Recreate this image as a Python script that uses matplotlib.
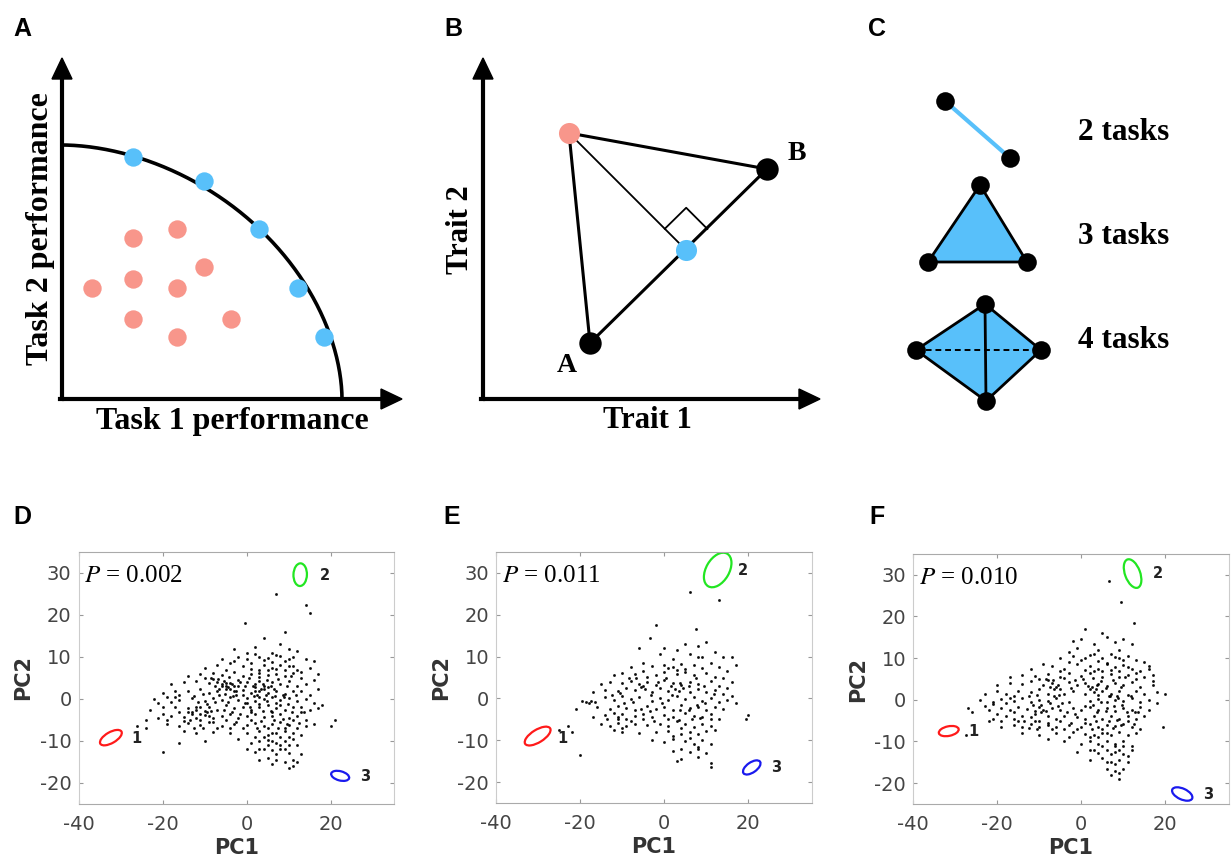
import numpy as np
import matplotlib
matplotlib.use("Agg")
import matplotlib.pyplot as plt
from matplotlib.patches import Polygon, Ellipse

plt.rcParams['mathtext.fontset'] = 'stix'
plt.rcParams['axes.unicode_minus'] = False

SERIF = 'Liberation Serif'
SANS = 'Liberation Sans'
BLUE = '#58C0FA'
PINK = '#F8968B'

# ---- panel A (pixel coords of the schematic) ----
a_front = [(133, 157), (204, 181), (259, 229), (298, 288), (324, 337)]
a_inner = [(133, 238), (177, 229), (204, 267), (133, 279), (92, 288),
           (177, 288), (133, 319), (231, 319), (177, 337)]

# ---- panel B ----
b_pink = (569, 133)
b_blue = (686, 250)
b_A = (590, 343)
b_B = (767, 169)

# ---- panel C ----
c_two = [(945, 101), (1010, 158)]
c_three = [(980, 185), (1027, 262), (928, 262)]
c_four = [(985, 304), (1041, 350), (986, 401), (916, 350)]
c_labels = ['2 tasks', '3 tasks', '4 tasks']
c_label_y = [132, 237, 341]

# ---- panels D-F: PCA scores ----
pts_d = [
    (7, 25), (14, 22.5), (15, 20.5), (-0.5, 18), (9, 16), (4, 14.5), (-20, -12.5), (21, -5), (20, -6.5),
    (-26, -6.5), (-24, -7),
    (-3, 12), (2, 12.5), (6, 11), (8, 13), (10, 12), (12, 11.5),
    (-6, 9.5), (-2, 10), (0, 11), (3, 10), (5, 9.8), (7, 10.5), (9, 9), (11, 10), (14, 9.5), (16, 9),
    (-10, 7.5), (-7, 8), (-4, 8.5), (-1, 7.8), (1, 8.5), (4, 8), (6, 7.5), (8, 8.2), (10, 7.8), (12, 7),
    (15, 7.5), (17, 6),
    (-14, 5.5), (-11, 6), (-8, 6.2), (-6, 5.8), (-3, 6.5), (-1, 5.5), (1, 6), (3, 6.3), (5, 5.7), (7, 6),
    (9, 5.5), (11, 6.2), (13, 5), (16, 4.5),
    (-18, 3.5), (-15, 4), (-12, 4.2), (-9, 3.8), (-7, 4), (-6, 3.5), (-5, 3.2), (-4, 3.8), (-3, 3),
    (-2, 4.5), (0, 4), (2, 3.5), (3, 4.2), (4, 3), (6, 4), (8, 3.6), (10, 4.2), (12, 3), (14, 3.5), (17, 2.5),
    (-20, 1.5), (-17, 2), (-14, 1.8), (-11, 2.3), (-9, 1.5), (-7, 2), (-5, 2.5), (-3, 1.8), (-1, 2.2),
    (1, 1.5), (2, 2), (3, 1.8), (4, 2.3), (5, 1.5), (7, 2), (9, 1.2), (11, 1.8), (13, 2), (15, 1),
    (-22, 0), (-19, 0.5), (-16, -0.2), (-13, 0.3), (-10, -0.5), (-8, 0.2), (-6, -0.3), (-4, 0.5),
    (-2, -0.2), (0, 0.3), (2, -0.5), (4, 0), (6, 0.5), (8, -0.3), (10, 0.2), (12, -0.5), (14, 0),
    (16, -1), (18, -1.5),
    (-23, -2.5), (-20, -2), (-17, -1.8), (-14, -2.2), (-12, -2.5), (-11, -1.8), (-9, -2), (-7, -2.5),
    (-5, -1.5), (-3, -2.2), (-1, -1.8), (1, -2.5), (3, -2), (5, -1.5), (7, -2.2), (9, -2.5), (11, -2),
    (13, -1.8), (15, -2.5), (17, -2.2),
    (-24, -5), (-21, -4.5), (-18, -4), (-15, -4.2), (-13, -3.5), (-12, -4.5), (-10, -3.8), (-8, -4.5),
    (-6, -4), (-4, -3.5), (-2, -4.5), (0, -4), (2, -3.5), (4, -4.3), (6, -4), (8, -3.5), (10, -4.5),
    (12, -4), (14, -5),
    (-19, -6), (-16, -6.5), (-14, -5.8), (-11, -6.2), (-9, -5.5), (-6, -6.5), (-3, -6), (0, -6.2),
    (2, -5.8), (4, -6.5), (6, -6), (8, -5.5), (10, -6.3), (12, -7), (14, -6.5), (16, -6),
    (-15, -7.5), (-12, -8), (-8, -7.8), (-4, -8.2), (0, -8), (3, -7.5), (5, -8.5), (7, -8), (9, -7.6),
    (11, -8.2), (13, -8.5),
    (-16, -10.5), (-10, -10), (-2, -9.5), (1, -10.5), (3, -10), (5, -9.8), (7, -10.5), (9, -10),
    (11, -9.5), (12, -11),
    (0, -12), (2, -12.5), (4, -11.8), (6, -12.2), (8, -12), (10, -12.8), (13, -13),
    (3, -14.5), (5, -14), (7, -14.5), (9, -15), (11, -14.5), (10, -16.5), (11, -16),
    (-6, 3), (-5.5, 4.2), (-4.5, 2.8), (-5, 3.8), (-4, 2.5), (-6.5, 2.5), (-3.5, 3.5),
    (2.5, 1), (3.5, 2.5), (4.5, 1), (2, 2.8), (5, 2.8), (3, 0.5),
    (-13, -3), (-11, -3.5), (-12, -2), (-10, -2.8), (-9, -4), (-14, -3),
    (0, -1), (1, -3), (6, -3), (7, -1), (-1, 1), (-2, 3), (9, -7), (10, -9), (8, -9), (6, -10),
    (-8.5, 5), (-7.5, 3), (-6.8, 4.8), (-5.2, 1.2), (-4.2, 5.2), (-3.2, 0.8), (-2.5, 2), (-1.5, 4),
    (-0.5, 3.2), (0.5, 5), (1.5, 3), (2.8, 5.2), (3.8, 3.6), (4.8, 4.5), (5.8, 3), (6.5, 2.4),
    (7.5, 4.8), (8.5, 1), (9.5, 3), (10.5, 5.5),
    (-12.5, 0.8), (-11.5, -0.8), (-10.5, 1.2), (-9.5, -1.2), (-8.5, -2.8), (-7.5, -0.8), (-6.5, 1),
    (-5.5, -2.5), (-4.5, -0.8), (-3.5, -3), (-2.5, 1), (-1.5, -3.5), (-0.5, -1), (0.8, -1.8),
    (1.8, 0.8), (2.8, -1.2), (3.8, -2.8), (4.8, -0.5), (5.8, -2.8), (6.8, 0.8), (7.8, -1.5),
    (8.8, 0.5), (9.8, -1.2), (10.8, -3), (11.8, 1), (12.8, -3),
    (-16, -3), (-15, -5.2), (-13.5, -5), (-12.5, -6.8), (-11, -5), (-10.5, -7), (-9.5, -3), (-8, -5.5),
    (-7, -7), (-5, -5), (-4, -7), (-2.5, -5.5), (-1, -7), (1, -5), (2.5, -7), (3.5, -5.2), (5, -7),
    (6.5, -5), (7.5, -6.8), (8.5, -4.8), (9.5, -6), (11, -5), (12.5, -5.8), (13.5, -3),
    (-18, -0.8), (-20, -3.5), (-17, 0.5), (-21, -1), (-19, -5), (-16, 1),
    (0, 9.5), (2, 10.8), (4, 9.2), (6, 8.8), (8, 10.2), (10, 9.5), (-3, 9), (-5, 7), (-8, 4.8),
    (-10, 5), (1, 7.2), (3, 6.8), (5, 7), (7, 7.2), (9, 7), (11, 7.8), (13, 6.5),
    (2, -9), (4, -9), (6, -8), (8, -11), (10, -11), (3, -12), (7, -13), (9, -12), (5, -11),
    (6, -15.5), (12, -15),
]

pts_e = [
    (6, 25.5), (13, 23.5), (-2, 17.5), (-3.5, 14.5), (7.5, 16.5), (-20, -13.5), (-23, -6.5),
    (-25, -7.5), (-22, -8), (20, -4), (19.5, -5), (16, 10), (17, 8), (-6, 12),
    (0, 12), (3, 11.5), (5, 13), (8, 12.5), (10, 13.5), (12, 11), (14, 10), (-1, 10.5), (2, 9.5),
    (6, 10.5), (9, 10),
    (-8, 7.5), (-5, 8.5), (-3, 7.8), (0, 8), (2, 7.5), (4, 8.3), (7, 8), (9, 7.2), (11, 8.5),
    (13, 7.5), (15, 6.5),
    (-12, 5.5), (-10, 6), (-7, 5.8), (-5, 6.5), (-2, 5.5), (0, 6.2), (3, 5.8), (5, 6.3), (7, 5.5),
    (10, 6), (12, 5.2), (14, 4.8), (16, 4),
    (-15, 3.5), (-13, 4), (-10, 3.8), (-8, 4.2), (-6, 3.5), (-5, 3), (-4, 4), (-2, 3.2), (0, 4.5),
    (2, 3.8), (4, 3.2), (6, 4), (8, 3.5), (11, 4.2), (13, 3), (15, 2.5),
    (-17, 1.5), (-14, 2), (-11, 1.8), (-9, 2.5), (-7, 2), (-5.5, 2.8), (-4.5, 2.2), (-3, 1.5),
    (-1, 2.5), (1, 1.8), (2.5, 2.2), (3.5, 1.8), (4.5, 2.5), (6, 1.5), (8, 2.2), (10, 1.5), (12, 2),
    (14, 1), (16, 0.5),
    (-19.5, -0.5), (-18.5, -0.8), (-17.5, -0.5), (-16.5, -0.8), (-18, -1.2), (-14, 0.3), (-12, -0.3),
    (-10, 0.5), (-8, -0.2), (-6, 0.3), (-3, -0.5), (-1, 0.2), (1, -0.3), (3, 0.5), (5, -0.2),
    (7, 0.3), (9, -0.5), (11, 0), (13, -0.8), (15, -0.3), (17, -1),
    (-21, -2.5), (-16, -2), (-13, -2.5), (-11, -1.8), (-9, -2.2), (-7, -2.8), (-4, -1.8), (-2, -2.5),
    (0, -2), (2, -2.8), (4, -1.5), (6, -2.3), (8, -2), (10, -2.8), (12, -2), (14, -2.5),
    (-17, -4.5), (-14, -4), (-12, -3.5), (-11, -4.5), (-10, -3.8), (-9, -5), (-7, -4.2), (-5, -3.8),
    (-3, -4.5), (0, -4), (2, -4.5), (5, -3.5), (7, -4.2), (9, -4.5), (11, -3.8), (13, -5),
    (-15, -6), (-13, -6.5), (-11, -5.8), (-9, -6.5), (-7, -6), (-4, -6.3), (-1, -6), (1, -6.5),
    (3, -5.5), (5, -6.2), (7, -6.8), (9, -6), (11, -6.5), (12, -7.5),
    (-12, -7.5), (-10, -8), (-6, -8.2), (-2, -8), (1, -7.8), (4, -8.5), (6, -8), (8, -8.5), (10, -7.8),
    (-3, -10), (0, -10.5), (2, -9.8), (5, -10.2), (7, -10.8), (9, -10), (11, -11),
    (2, -12.5), (4, -12), (6, -12.8), (8, -12.2), (10, -13),
    (4, -14.5), (3, -15), (8, -14), (11, -15.5), (11, -16.5),
    (-8.5, 5), (-6.8, 4.8), (-4.2, 5.2), (-3.2, 0.8), (-1.5, 4), (0.5, 5), (1.5, 3), (3.8, 3.6),
    (5.8, 3), (7.5, 4.8), (9.5, 3),
    (-12.5, 0.8), (-10.5, 1.2), (-9.5, -1.2), (-7.5, -0.8), (-5.5, -2.5), (-3.5, -3), (-0.5, -1),
    (1.8, 0.8), (3.8, -2.8), (5.8, -2.8), (7.8, -1.5), (9.8, -1.2), (11.8, 1),
    (-13.5, -5), (-11, -5), (-10, -7), (-8, -5.5), (-5, -5), (-2.5, -5.5), (1, -5), (3.5, -5.2),
    (6.5, -5), (8.5, -4.8), (11, -5),
    (1, 7.2), (3, 6.8), (5, 7), (8, 10), (2, -9), (6, -9.5), (8, -11.5), (4, -7),
]

pts_f = [
    (6.5, 28.5), (9.5, 23.5), (12.5, 18.5), (-2, 14), (-26, -3), (-27, -2), (-27.5, -8.5),
    (19.5, -6.5), (20, 1.5), (17, 6), (16, 7.5), (1, 17), (5, 16),
    (0, 14.5), (3, 13.5), (6, 15), (8, 13.8), (10, 14.5), (12, 13.5), (-1, 12.5), (4, 12), (9, 12),
    (-5, 10), (-2, 10.5), (1, 10), (3, 11), (5, 10), (7, 11), (9, 10), (11, 10.5), (13, 9.5),
    (15, 9), (-3, 11.5),
    (-12, 7.5), (-9, 8.5), (-7, 8), (-4, 7.5), (-1, 8.5), (2, 8), (4, 7.5), (6, 8.5), (8, 7.8),
    (10, 8.3), (12, 7.5), (14, 7), (16, 8),
    (-17, 5.5), (-14, 6), (-11, 5.8), (-8, 6.3), (-5, 5.5), (-3, 6.5), (0, 5.8), (2, 6.5), (5, 5.5),
    (7, 6.2), (9, 5.5), (11, 6), (13, 5), (15, 5.5), (17, 4.5),
    (-20, 3.5), (-17, 4), (-14, 3.8), (-12, 4.5), (-9, 3.5), (-7, 4), (-6, 3), (-5.5, 3.5),
    (-6.5, 2.5), (-5, 2.5), (-3, 4.2), (-1, 3.5), (1, 4), (2.5, 3), (3.5, 2.5), (4, 3.8), (6, 3.2),
    (8, 4), (10, 3.5), (12, 4.2), (14, 3), (17, 3.5),
    (-23, 1.5), (-20, 2), (-18, 1.5), (-15, 2.2), (-12, 1.8), (-10, 2.5), (-8, 1.5), (-4, 1.5),
    (-2, 2), (1, 1.5), (3, 1.8), (2, 2.5), (4, 1.2), (5, 2.2), (7, 1.5), (9, 2), (11, 1.2), (13, 2),
    (15, 1.5), (18, 1.8),
    (-24, 0), (-21, -0.5), (-19, 0.2), (-16, -0.3), (-14, 0.5), (-12, -0.5), (-10, 0), (-8, -0.3),
    (-6, 0.5), (-3, -0.5), (2, -0.3), (4, 0.2), (6, -0.5), (8, 0), (10, -0.3), (12, 0.5), (14, -0.5),
    (16, 0), (18, -0.8),
    (-22, -2.5), (-19, -2), (-17, -2.5), (-15, -1.8), (-13, -2.2), (-11, -2.8), (-10, -1.8),
    (-9, -2.5), (-7, -2), (-5, -2.5), (-2, -2), (0, -2.5), (2, -1.8), (4, -2.5), (6, -2), (8, -2.8),
    (10, -2), (12, -2.5), (14, -1.8), (16, -2.5),
    (-21, -4.5), (-18, -4), (-16, -4.5), (-14, -3.8), (-12, -4.2), (-11, -3.5), (-10, -5), (-8, -4),
    (-6, -4.5), (-4, -3.8), (-1, -4.2), (1, -4.5), (3, -3.8), (5, -4.5), (7, -4), (9, -4.5),
    (11, -3.8), (13, -4.5), (15, -4),
    (-19, -6.5), (-16, -6), (-14, -6.5), (-12, -5.8), (-10, -6.5), (-8, -6), (-6, -6.5), (-3, -6),
    (0, -6.5), (2, -5.8), (4, -6.5), (6, -6), (8, -6.3), (10, -5.8), (12, -6.5), (14, -7),
    (-14, -8), (-10, -8.5), (-6, -8), (-2, -7.8), (1, -8.2), (3, -8.5), (5, -8), (7, -8.5),
    (9, -7.8), (11, -8.5), (13, -8),
    (-4, -10), (0, -10.5), (2, -10), (4, -10.5), (6, -9.8), (8, -10.5), (10, -10), (12, -11),
    (-1, -12.5), (2, -12), (4, -12.8), (6, -12), (8, -12.5), (10, -13), (12, -12),
    (2, -14.5), (5, -14), (7, -15), (9, -14.5), (11, -15),
    (6, -16.5), (8, -17), (10, -16.5), (7, -18), (9, -19),
    (-8.5, 5), (-7.5, 3), (-6.8, 4.8), (-5.2, 1.2), (-4.2, 5.2), (-2.5, 2.8), (-1.5, 4.8), (0.5, 5),
    (1.5, 3.2), (2.8, 5.2), (3.8, 3.6), (4.8, 4.5), (5.8, 2.8), (6.5, 1), (7.5, 4.8), (8.5, 1),
    (9.5, 3), (10.5, 5.5),
    (-12.5, 0.8), (-11.5, -1.2), (-10.5, 1.2), (-9.5, -1.2), (-8.5, -2.8), (-7.5, -0.8), (-6.5, 1),
    (-5.5, -1.5), (-4.5, -0.8), (-3.5, -3), (-1.5, -3.5), (0.8, -1.5), (2.8, -1.2), (3.8, -3),
    (4.8, -0.5), (5.8, -2.8), (6.8, 0.8), (7.8, -1.5), (8.8, 0.5), (9.8, -1.2), (10.8, -3),
    (11.8, 1), (12.8, -3),
    (-16, -3), (-15, -5.2), (-13.5, -5), (-12.5, -6.8), (-11, -5), (-10.5, -7), (-9.5, -3), (-8, -5.5),
    (-7, -7), (-5, -5), (-4, -7), (-2.5, -5.5), (-1, -7), (1, -5.5), (2.5, -7), (3.5, -5.2), (5, -7),
    (6.5, -5), (7.5, -6.8), (8.5, -4.8), (9.5, -6), (11, -5), (12.5, -5.8), (13.5, -3),
    (-18, -0.8), (-20, -3.5), (-17, 0.5), (-21, -1), (-19, -5), (-16, 1), (-22, -5), (-23, -1.5),
    (0, 9.5), (2, 10.8), (4, 9.2), (6, 8.8), (8, 10.2), (10, 9.5), (-3, 9), (-5, 7), (-8, 4.8),
    (-10, 5), (1, 7.2), (3, 6.8), (5, 7), (7, 7.2), (9, 7), (11, 7.8), (13, 6.5),
    (2, -9), (4, -9), (6, -8), (8, -11), (10, -11), (3, -12), (7, -13), (9, -12), (5, -11),
    (6, -15), (8, -15.5), (9, -17.5), (11, -13.5), (-3, -9), (-8, -9.5),
]

# task archetype ellipses: (cx, cy, long, short, angle, colour)
ell_d = [(-32.3, -9.2, 5.8, 2.6, 30, '#ff1a1a'), (12.7, 29.6, 5.4, 3.2, 88, '#22e622'),
         (22.2, -18.3, 4.4, 2.2, -15, '#1a1aee')]
ell_e = [(-30.1, -9.0, 7.0, 3.0, 32, '#ff1a1a'), (12.7, 30.7, 9.0, 5.5, 60, '#22e622'),
         (20.8, -16.5, 4.8, 2.4, 35, '#1a1aee')]
ell_f = [(-31.5, -7.5, 4.8, 2.3, 12, '#ff1a1a'), (12.2, 30.3, 7.2, 3.6, 110, '#22e622'),
         (24.0, -22.6, 5.2, 2.6, -25, '#1a1aee')]
lab_d = [(-26.2, -9.3), (18.7, 29.4), (28.2, -18.4)]
lab_e = [(-24.3, -9.6), (18.6, 30.5), (26.7, -16.6)]
lab_f = [(-25.7, -7.7), (18.2, 30.2), (30.1, -22.7)]
p_values = ['0.002', '0.011', '0.010']


def draw_axes_arrows(ax, x0, y0, xtip, ytip):
    ax.plot([x0, x0], [y0 + 2, ytip + 15], color='k', lw=3, solid_capstyle='butt')
    ax.plot([x0 - 2, x0], [y0, y0], color='k', lw=3)
    ax.plot([x0, xtip - 15], [y0, y0], color='k', lw=3, solid_capstyle='butt')
    ax.add_patch(Polygon([(x0 - 10, ytip + 21), (x0 + 10, ytip + 21), (x0, ytip)], color='k'))
    ax.add_patch(Polygon([(xtip - 21, y0 - 10), (xtip - 21, y0 + 10), (xtip, y0)], color='k'))


def pca_panel(ax, pts, ells, labs, pval):
    pts = np.array(pts)
    ax.plot(pts[:, 0], pts[:, 1], '.', color='k', ms=2.3, alpha=0.8)
    for (cx, cy, w, h, ang, col), (lx, ly), num in zip(ells, labs, ['1', '2', '3']):
        ax.add_patch(Ellipse((cx, cy), w, h, angle=ang, fill=False, ec=col, lw=1.6))
        ax.text(lx, ly, num, fontsize=10.5, fontweight='bold', ha='center', va='center',
                color='#222222', clip_on=False)
    ax.text(-38.6, 29.2, r'$P$ = ' + pval, fontsize=18, family=SERIF, va='center')
    ax.set_xlim(-40, 35)
    ax.set_ylim(-25, 35)
    ax.set_xticks([-40, -20, 0, 20])
    ax.set_yticks([-20, -10, 0, 10, 20, 30])
    ax.tick_params(direction='in', top=True, right=True, length=3, width=0.8, color='#999999',
                   labelsize=14, labelcolor='#444444', pad=5)
    ax.tick_params(axis='x', pad=8)
    for sp in ax.spines.values():
        sp.set_color('#cccccc')
    for sp in ('top', 'bottom'):
        ax.spines[sp].set_color('#aaaaaa')
    ax.set_xlabel('PC1', fontsize=15, fontweight='bold', color='#333333', labelpad=3)
    ax.set_ylabel('PC2', fontsize=15, fontweight='bold', color='#333333', labelpad=4.5)


fig = plt.figure(figsize=(12.31, 8.6), dpi=100)
ax0 = fig.add_axes([0, 0, 1, 1])
ax0.set_xlim(0, 1231)
ax0.set_ylim(860, 0)
ax0.axis('off')

# panel letters
for letter, (x, y) in zip('ABCDEF', [(13, 29), (444, 29), (868, 29), (13, 517), (443, 517), (869, 517)]):
    ax0.text(x, y, letter, fontsize=18, fontweight='bold', family=SANS, ha='left', va='center')

# A: Pareto front
draw_axes_arrows(ax0, 62, 399, 402, 58)
t = np.linspace(0, np.pi / 2, 200)
n = 1.85
ax0.plot(62 + 280 * np.cos(t) ** (2 / n), 399 - 254 * np.sin(t) ** (2 / n), color='k', lw=2.6)
fx, fy = zip(*a_front)
ix, iy = zip(*a_inner)
ax0.scatter(ix, iy, s=175, color=PINK, zorder=3, lw=0)
ax0.scatter(fx, fy, s=175, color=BLUE, zorder=3, lw=0)
ax0.text(232, 421, 'Task 1 performance', fontsize=23, fontweight='bold', family=SERIF,
         ha='center', va='center')
ax0.text(41, 229, 'Task 2 performance', fontsize=23, fontweight='bold', family=SERIF,
         ha='center', va='center', rotation=90)

# B: trade-off between two archetypes
draw_axes_arrows(ax0, 483, 399, 820, 58)
for p, q in [(b_pink, b_A), (b_pink, b_B), (b_A, b_B)]:
    ax0.plot([p[0], q[0]], [p[1], q[1]], color='k', lw=2.2, zorder=2)
ax0.plot([b_pink[0], b_blue[0]], [b_pink[1], b_blue[1]], color='k', lw=1.3, zorder=2)
# right-angle mark at the foot of the perpendicular
u = np.array(b_B, float) - np.array(b_A, float)
u /= np.hypot(*u)
v = np.array(b_pink, float) - np.array(b_blue, float)
v /= np.hypot(*v)
foot = np.array(b_blue, float)
side = 30
sq = [foot + side * u, foot + side * (u + v), foot + side * v]
ax0.plot([sq[0][0], sq[1][0], sq[2][0]], [sq[0][1], sq[1][1], sq[2][1]], color='k', lw=1.3)
ax0.scatter(*b_pink, s=230, color=PINK, zorder=3, lw=0)
ax0.scatter(*b_blue, s=230, color=BLUE, zorder=3, lw=0)
ax0.scatter([b_A[0], b_B[0]], [b_A[1], b_B[1]], s=260, color='k', zorder=3, lw=0)
ax0.text(567, 366, 'A', fontsize=20, fontweight='bold', family=SERIF, ha='center', va='center')
ax0.text(797, 153, 'B', fontsize=20, fontweight='bold', family=SERIF, ha='center', va='center')
ax0.text(647, 421, 'Trait 1', fontsize=22, fontweight='bold', family=SERIF, ha='center', va='center')
ax0.text(461, 230, 'Trait 2', fontsize=22, fontweight='bold', family=SERIF, ha='center',
         va='center', rotation=90)

# C: polytopes
cx2, cy2 = zip(*c_two)
ax0.plot(cx2, cy2, color=BLUE, lw=3, zorder=2)
ax0.scatter(cx2, cy2, s=180, color='k', zorder=3, lw=0)
ax0.add_patch(Polygon(c_three, closed=True, fc=BLUE, ec='k', lw=2, zorder=2))
cx3, cy3 = zip(*c_three)
ax0.scatter(cx3, cy3, s=180, color='k', zorder=3, lw=0)
ax0.add_patch(Polygon(c_four, closed=True, fc=BLUE, ec='k', lw=2, zorder=2))
ax0.plot([c_four[0][0], c_four[2][0]], [c_four[0][1], c_four[2][1]], color='k', lw=2, zorder=2)
ax0.plot([c_four[3][0], c_four[1][0]], [c_four[3][1], c_four[1][1]], color='k', lw=1.4,
         ls=(0, (3, 2)), zorder=2)
cx4, cy4 = zip(*c_four)
ax0.scatter(cx4, cy4, s=180, color='k', zorder=3, lw=0)
for lab, y in zip(c_labels, c_label_y):
    ax0.text(1078, y, lab, fontsize=22.5, fontweight='bold', family=SERIF, ha='left', va='center')

# D-F: PCA panels
W, H = 1231.0, 860.0
boxes = [(78.5, 552, 394, 804), (496, 552, 811.5, 803), (913, 554, 1228.5, 804)]
for (l, tp, r, b), pts, ells, labs, pv in zip(boxes, [pts_d, pts_e, pts_f], [ell_d, ell_e, ell_f],
                                               [lab_d, lab_e, lab_f], p_values):
    ax = fig.add_axes([l / W, (H - b) / H, (r - l) / W, (b - tp) / H])
    pca_panel(ax, pts, ells, labs, pv)

fig.savefig('out.png', dpi=100)
